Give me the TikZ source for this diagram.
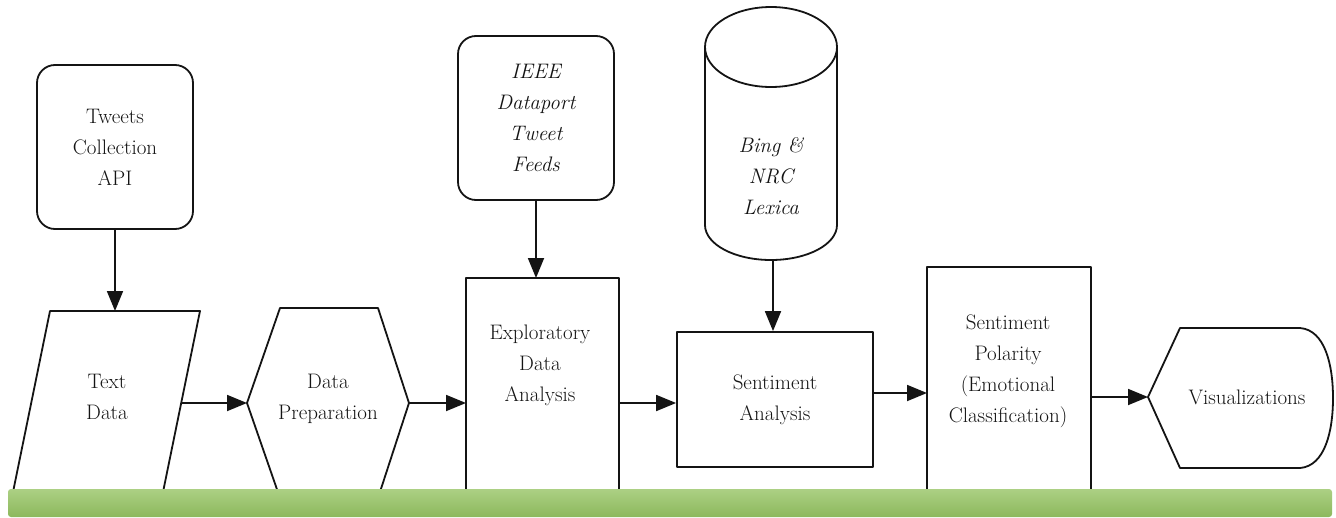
\documentclass[tikz,border=0pt]{standalone}
\usepackage{fontspec}
\usetikzlibrary{arrows.meta}
\definecolor{ink}{RGB}{20,20,20}
\definecolor{barTop}{RGB}{172,208,132}
\definecolor{barBot}{RGB}{140,184,92}
\tikzset{
  flow/.style={line width=1.8pt, draw=ink, line join=round},
  arr/.style={flow, -{Triangle[length=20pt,width=16pt]}},
  lbl/.style={font=\fontsize{21}{31}\selectfont, align=center, text=ink, inner sep=0pt},
  rbox/.style={flow, rounded corners=18pt, minimum width=156pt, minimum height=164pt, lbl},
  sbox/.style={flow, draw, minimum width=196pt, minimum height=135pt, lbl}
}
\begin{document}
\begin{tikzpicture}[x=1pt,y=-1pt]
\useasboundingbox (0,0) rectangle (1336,517);
\fill[white] (0,0) rectangle (1336,517);

% source nodes
\node[rbox, draw] (tw) at (115,147) {Tweets\\Collection\\API};
\node[rbox, draw, font=\fontsize{21}{31}\selectfont\itshape] (ieee) at (536,118) {IEEE\\Dataport\\Tweet\\Feeds};

% cylinder (Bing & NRC Lexica)
\draw[flow] (771,47) ellipse [x radius=66, y radius=40];
\draw[flow] (705,47) -- (705,225)
  .. controls (705,244.3) and (734.5,260) .. (771,260)
  .. controls (807.5,260) and (837,244.3) .. (837,225) -- (837,47);
\node[lbl, font=\fontsize{21}{31}\selectfont\itshape] (lex) at (771,176) {Bing \&\\NRC\\Lexica};
\coordinate (lexb) at (773,260);

% Text Data (parallelogram)
\draw[flow] (12,497) -- (50,311) -- (200,311) -- (162,497);
\node[lbl] (td) at (107,397) {Text\\Data};
\coordinate (tdt) at (115,311);
\coordinate (tdr) at (181,403);

% Data Preparation (hexagon)
\draw[flow] (280,498) -- (247,403) -- (280,308) -- (378,308) -- (409,403) -- (378,498);
\node[lbl] (dp) at (328,399) {Data\\Preparation};
\coordinate (dpl) at (247,403);
\coordinate (dpr) at (409,403);

% Exploratory Data Analysis
\draw[flow] (466,497) -- (466,278) -- (619,278) -- (619,497);
\node[lbl] (eda) at (540,365) {Exploratory\\Data\\Analysis};
\coordinate (edal) at (466,403);
\coordinate (edar) at (619,403);
\coordinate (edat) at (536,278);

% Sentiment Analysis
\node[sbox] (sa) at (775,399.5) {Sentiment\\Analysis};
\coordinate (sao) at (873,393);

% Sentiment Polarity
\draw[flow] (927,497) -- (927,267) -- (1091,267) -- (1091,497);
\node[lbl] (sp) at (1008,371) {Sentiment\\Polarity\\(Emotional\\Classification)};
\coordinate (spl) at (927,393);
\coordinate (spr) at (1091,397);

% Visualizations (display shape)
\draw[flow] (1148,397) -- (1180,328) -- (1300,328)
  .. controls (1325,330) and (1333,365) .. (1333,398)
  .. controls (1333,431) and (1325,466) .. (1300,468)
  -- (1180,468) -- cycle;
\node[lbl] (vis) at (1247,397) {Visualizations};
\coordinate (visl) at (1148,397);

% connectors
\draw[arr] (tw.south) -- (tdt);
\draw[arr] (tdr) -- (dpl);
\draw[arr] (dpr) -- (edal);
\draw[arr] (ieee.south) -- (edat);
\draw[arr] (lexb) -- (lexb |- sa.north);
\draw[arr] (edar) -- (edar -| sa.west);
\draw[arr] (sao) -- (spl);
\draw[arr] (spr) -- (visl);

% green bar
\shade[top color=barTop, bottom color=barBot, rounded corners=3pt] (8,489) rectangle (1332,517);
\end{tikzpicture}
\end{document}
